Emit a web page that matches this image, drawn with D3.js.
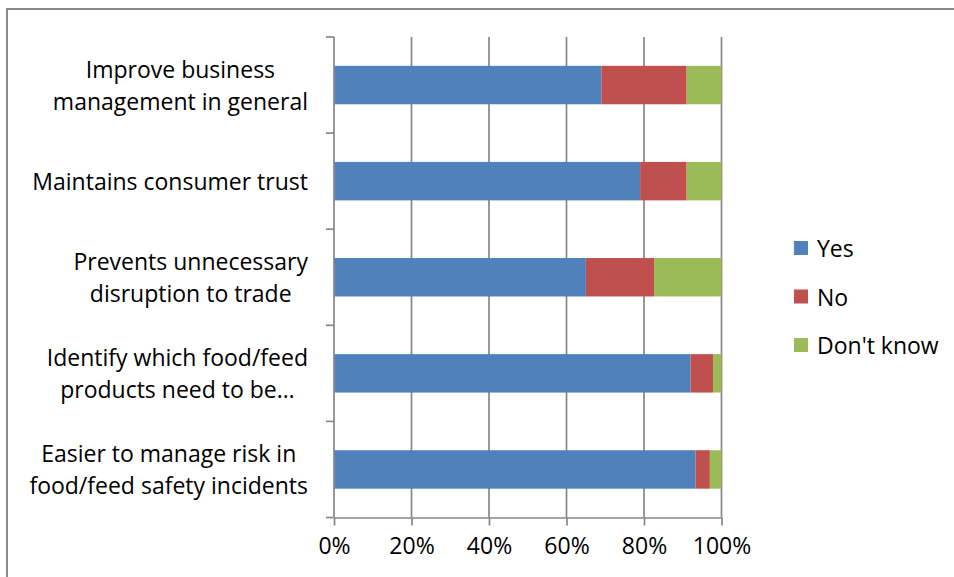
<!DOCTYPE html>
<html>
<head>
<meta charset="utf-8">
<script src="https://cdn.jsdelivr.net/npm/d3@7"></script>
<style>
  html, body { margin: 0; padding: 0; background: #fff; }
  svg { display: block; }
  text { font-family: "Open Sans", Lato, sans-serif; fill: #000; }
</style>
</head>
<body>
<svg id="chart" width="954" height="577"></svg>
<script>
const categories = [
  ["Improve business", "management in general"],
  ["Maintains consumer trust"],
  ["Prevents unnecessary", "disruption to trade"],
  ["Identify which food/feed", "products need to be\u2026"],
  ["Easier to manage risk in", "food/feed safety incidents"]
];
const seriesNames = ["Yes", "No", "Don't know"];
const yesValues = [69, 79, 65, 92, 93.3];
const noValues = [22, 12, 17.6, 5.8, 3.7];
const dontKnowValues = [9, 9, 17.4, 2.2, 3.0];
const xTicks = [0, 0.2, 0.4, 0.6, 0.8, 1.0];
const colors = ["#4F81BD", "#C0504D", "#9BBB59"];

const svg = d3.select("#chart");
const fontSize = 23;
const fontFamily = "'Open Sans', Lato, sans-serif";
const gridColor = "#878787";

// outer border
svg.append("rect")
  .attr("x", 7).attr("y", 9)
  .attr("width", 1000).attr("height", 700)
  .attr("fill", "none").attr("stroke", "#898989").attr("stroke-width", 2);

const plot = { left: 334, right: 721.5, top: 37, bottom: 517.5 };

const keys = categories.map((c, i) => i);
const x = d3.scaleLinear().domain([0, 1]).range([plot.left, plot.right]);
const y = d3.scaleBand().domain(keys).range([plot.top, plot.bottom])
  .paddingInner(0.6).paddingOuter(0.3);

const table = keys.map(i => ({
  key: i,
  "Yes": yesValues[i] / 100,
  "No": noValues[i] / 100,
  "Don't know": dontKnowValues[i] / 100
}));
const stacked = d3.stack().keys(seriesNames)(table);

// vertical gridlines (excluding 0)
svg.append("g").selectAll("line").data(xTicks.filter(t => t > 0)).join("line")
  .attr("x1", d => x(d)).attr("x2", d => x(d))
  .attr("y1", plot.top).attr("y2", plot.bottom)
  .attr("stroke", gridColor).attr("stroke-width", 1.7);

// bars
svg.append("g").selectAll("g").data(stacked).join("g")
  .attr("fill", (d, i) => colors[i])
  .selectAll("rect").data(d => d).join("rect")
  .attr("x", d => x(d[0]))
  .attr("width", d => x(d[1]) - x(d[0]))
  .attr("y", d => y(d.data.key))
  .attr("height", y.bandwidth());

// x axis
const xAxis = d3.axisBottom(x).tickValues(xTicks)
  .tickFormat(d3.format(".0%")).tickSizeInner(8).tickSizeOuter(0).tickPadding(12);
const xg = svg.append("g").attr("transform", `translate(0,${plot.bottom})`).call(xAxis);
xg.select(".domain").attr("stroke", gridColor).attr("stroke-width", 1.7);
xg.selectAll(".tick line").attr("stroke", gridColor).attr("stroke-width", 1.7);
xg.selectAll(".tick text").attr("font-size", fontSize).attr("font-family", fontFamily).attr("fill", "#000");

// y axis line with boundary ticks
svg.append("line")
  .attr("x1", plot.left).attr("x2", plot.left)
  .attr("y1", plot.top).attr("y2", plot.bottom)
  .attr("stroke", gridColor).attr("stroke-width", 1.7);
const step = y.step();
const boundaries = d3.range(categories.length + 1).map(i => plot.top + i * step);
svg.append("g").selectAll("line").data(boundaries).join("line")
  .attr("x1", plot.left - 8).attr("x2", plot.left)
  .attr("y1", d => d).attr("y2", d => d)
  .attr("stroke", gridColor).attr("stroke-width", 1.7);

// category labels (multi-line, lines centered, block right-aligned)
const labelRight = 308;
const lineH = 32;
const labelG = svg.append("g");
categories.forEach((lines, i) => {
  const cy = y(i) + y.bandwidth() / 2;
  const g = labelG.append("g");
  const texts = lines.map((ln, j) => g.append("text")
    .attr("font-size", fontSize)
    .attr("text-anchor", "middle")
    .attr("dominant-baseline", "central")
    .attr("y", cy + (j - (lines.length - 1) / 2) * lineH)
    .text(ln));
  const maxW = d3.max(texts, t => t.node().getComputedTextLength());
  texts.forEach(t => t.attr("x", labelRight - maxW / 2));
});

// legend
const legend = svg.append("g");
const legendY = [248, 296.5, 345];
seriesNames.forEach((name, i) => {
  legend.append("rect")
    .attr("x", 794).attr("y", legendY[i] - 7)
    .attr("width", 14).attr("height", 14)
    .attr("fill", colors[i]);
  legend.append("text")
    .attr("x", 817).attr("y", legendY[i])
    .attr("dominant-baseline", "central")
    .attr("font-size", fontSize)
    .text(name);
});
</script>
</body>
</html>
